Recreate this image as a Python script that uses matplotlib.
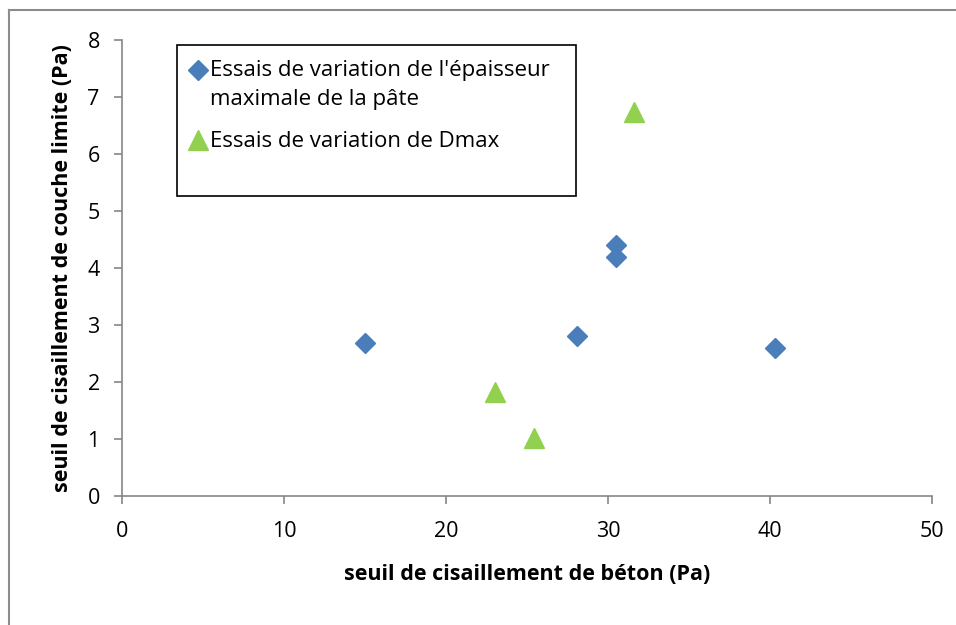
import numpy as np
import matplotlib.pyplot as plt
from matplotlib.patches import Rectangle
from matplotlib.lines import Line2D

plt.rcParams['font.family'] = ['Open Sans', 'DejaVu Sans']

# essais de variation de l'epaisseur maximale de la pate
beton_ep = [15.0, 28.1, 30.5, 30.5, 40.3]
couche_ep = [2.68, 2.80, 4.40, 4.20, 2.59]

# essais de variation de Dmax
beton_dmax = [23.0, 25.4, 31.6]
couche_dmax = [1.83, 1.01, 6.73]

lab_ep = "Essais de variation de l'épaisseur\nmaximale de la pâte"
lab_dmax = "Essais de variation de Dmax"

fig = plt.figure(figsize=(9.56, 6.25), dpi=100)
ax = fig.add_axes([0.1276, 0.2064, 0.8474, 0.7296])

# cadre du graphique : seuls les bords gauche et haut sont visibles
x0 = 8.5 / 956
y0 = 1 - 9.5 / 625
fig.add_artist(Line2D([x0, x0], [0, y0], transform=fig.transFigure,
                      color='#8c8c8c', linewidth=1.5))
fig.add_artist(Line2D([x0, 1], [y0, y0], transform=fig.transFigure,
                      color='#8c8c8c', linewidth=1.5))

ax.plot(beton_ep, couche_ep, linestyle='none', marker='D', markersize=10,
        color='#4a7ebb', label=lab_ep)
ax.plot(beton_dmax, couche_dmax, linestyle='none', marker='^', markersize=15,
        color='#92d050', label=lab_dmax)

ax.set_xlim(0, 50)
ax.set_ylim(0, 8)
ax.set_xticks(range(0, 51, 10))
ax.set_yticks(range(0, 9, 1))
for s in ['top', 'right']:
    ax.spines[s].set_visible(False)
for s in ['left', 'bottom']:
    ax.spines[s].set_color('#868686')
    ax.spines[s].set_linewidth(1.2)
ax.tick_params(direction='out', length=6, width=1.2, color='#868686',
               labelsize=15.5)
ax.tick_params(axis='x', pad=12)
ax.tick_params(axis='y', pad=10)

ax.set_xlabel('seuil de cisaillement de béton (Pa)', fontsize=15.5,
              fontweight='bold', labelpad=16)
ax.set_ylabel('seuil de cisaillement de couche limite (Pa)', fontsize=15.5,
              fontweight='bold', labelpad=10)

ax.add_patch(Rectangle((0.068, 0.658), 0.493, 0.331, transform=ax.transAxes,
                       fill=False, edgecolor='black', linewidth=1.2, zorder=3))
leg = ax.legend(loc='upper left', bbox_to_anchor=(0.069, 0.975), frameon=False,
                fontsize=16, handletextpad=0.05, handlelength=1.0,
                labelspacing=0.95, borderaxespad=0)
for t in leg.get_texts():
    t.set_linespacing(1.5)
# losange en face de la premiere ligne du libelle
h = leg.legend_handles[0]
h.set_ydata(np.asarray(h.get_ydata()) + 11)

fig.savefig('out.png', dpi=100)
